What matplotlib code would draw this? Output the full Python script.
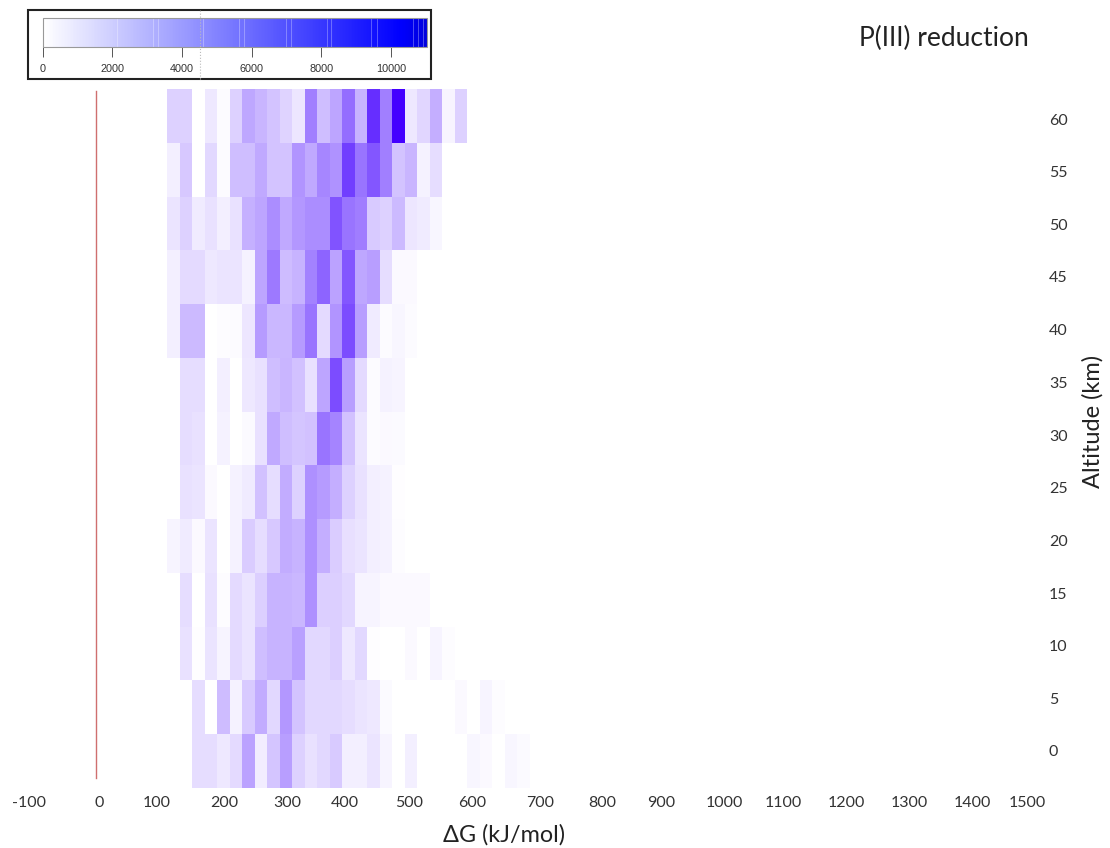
import numpy as np
import matplotlib
matplotlib.use('Agg')
import matplotlib.pyplot as plt
from matplotlib.cm import ScalarMappable
from matplotlib.colors import LinearSegmentedColormap, Normalize
from matplotlib.lines import Line2D
from matplotlib.patches import Rectangle

plt.rcParams['font.family'] = ['Lato', 'DejaVu Sans']

# bin edges, 20 kJ/mol wide
dg_edges = np.arange(114, 114 + 20 * 30, 20)
alt_edges = np.arange(-2.5, 67.5, 5)

# one list per altitude, starting at the first bin
alt60 = [2000, 2000, 0, 1000, 200, 2000, 3800, 3200, 2600, 1900, 1100, 5500, 2800, 3900, 6300, 3300, 9000, 5500, 11000, 1000, 1800, 3500, 500, 2000]
alt55 = [700, 2400, 0, 1700, 200, 2800, 2800, 3700, 2600, 2600, 4600, 3700, 5200, 4700, 8300, 6000, 7300, 5500, 2600, 3200, 600, 1500]
alt50 = [1200, 2000, 900, 1300, 700, 1300, 3400, 3900, 4900, 3700, 4500, 4900, 4900, 7400, 6000, 5600, 2300, 2000, 3000, 1100, 900, 400]
alt45 = [700, 1600, 1600, 1000, 1200, 1200, 600, 3900, 5800, 2900, 3300, 5400, 6700, 4000, 7300, 3800, 4200, 1500, 300, 300]
alt40 = [700, 3000, 3000, 0, 150, 200, 1100, 4300, 3100, 3100, 4300, 6000, 1600, 4600, 7700, 4200, 900, 200, 400, 200]
alt35 = [0, 1500, 1500, 0, 700, 0, 1000, 1300, 2800, 3200, 2700, 1300, 3900, 7700, 4200, 1600, 200, 600, 500]
alt30 = [0, 1500, 1300, 0, 600, 0, 250, 1300, 3700, 2800, 2500, 2700, 6000, 5300, 2700, 1200, 200, 300, 250]
alt25 = [0, 1300, 1200, 300, 0, 600, 900, 2700, 1500, 3600, 2000, 4800, 4300, 3500, 2000, 1300, 700, 600, 100]
alt20 = [500, 900, 300, 1200, 0, 600, 2200, 1500, 2400, 3600, 3300, 4800, 3500, 2200, 1400, 1200, 700, 600, 150]
alt15 = [0, 1500, 0, 1300, 150, 1600, 1200, 2100, 3300, 3300, 3100, 4800, 2100, 2100, 1700, 500, 500, 300, 300, 300, 300]
alt10 = [0, 1300, 100, 1200, 500, 1600, 1200, 2800, 3300, 3300, 4100, 1700, 1700, 2100, 1000, 1700, 100, 0, 0, 300, 0, 500, 150]
alt05 = [0, 0, 1500, 0, 2900, 600, 2300, 3600, 1700, 4500, 2600, 1700, 1700, 1700, 1500, 1200, 1000, 250, 0, 0, 0, 0, 0, 300, 0, 500, 150]
alt00 = [0, 0, 1500, 1500, 1000, 1600, 4000, 800, 2500, 4200, 2000, 1300, 1700, 2300, 700, 700, 1200, 500, 0, 700, 0, 0, 0, 0, 400, 300, 0, 400, 250]

rows = [alt00, alt05, alt10, alt15, alt20, alt25, alt30, alt35, alt40, alt45, alt50, alt55, alt60]
counts = np.zeros((len(rows), len(dg_edges) - 1))
for i, r in enumerate(rows):
    counts[i, :len(r)] = r

x_labels = ['-100', '0', '100', '200', '300', '400', '500', '600', '700', '800',
            '900', '1000', '1100', '1200', '1300', '1400', '1500']
y_labels = ['60', '55', '50', '45', '40', '35', '30', '25', '20', '15', '10', '5', '0']
cbar_ticks = [0, 2000, 4000, 6000, 8000, 10000]
# pale streaks in the colour bar
cbar_streaks = [2126, 3180, 3324, 4617, 5651, 5795, 6982, 7126, 8161, 8285, 9435, 9598, 10632, 10795, 10939]

W, H = 1110, 848
fig = plt.figure(figsize=(W / 100, H / 100), dpi=100)

# main axes: -100..1500 is px 33.5..1033.5, rows run px 89..788
L, R, T, B = 33.5, 1033.5, 89, 788
ax = fig.add_axes([L / W, 1 - B / H, (R - L) / W, (B - T) / H])
heat = LinearSegmentedColormap.from_list('heat', ['#ffffff', '#4400ff'])
ax.pcolormesh(dg_edges, alt_edges, counts, cmap=heat, vmin=0, vmax=11000)


def px2x(px):
    return (px - 96) / 0.625


def py2y(py):
    return 62.5 - (py - T) / 10.754


# labels in the picture are not evenly spaced
x_label_px = [29, 99, 157, 224, 287, 345, 409, 472, 540, 602, 661, 724, 783, 846, 909, 972, 1027]
y_label_px = [120, 172, 225, 277, 330, 383, 436, 488, 541, 594, 646, 699, 751]
ax.set_xticks([px2x(p) for p in x_label_px], x_labels)
ax.set_yticks([py2y(p) for p in y_label_px], y_labels)
ax.xaxis.get_major_ticks()[0].label1.set_clip_on(False)
ax.yaxis.tick_right()
ax.tick_params(axis='both', length=0, labelsize=11.5, labelcolor='#333333')
ax.tick_params(axis='x', pad=6)
ax.tick_params(axis='y', pad=11)
for s in ax.spines.values():
    s.set_visible(False)
ax.patch.set_visible(False)

ax.plot([0, 0], [py2y(91), py2y(778)], color='#cf6f6f', lw=1.0)

# set_xticks widens the limits, so fix them here; the -100 label sits just left of the axes
ax.set_xlim(px2x(L - 8), 1500)
ax.set_ylim(-2.5, 62.5)
ax.set_position([(L - 8) / W, 1 - B / H, (R - L + 8) / W, (B - T) / H])
L = L - 8

ax.set_xlabel('ΔG (kJ/mol)', fontsize=16.8, color='#222222')
ax.xaxis.set_label_coords((504 - L) / (R - L), -(835 - B) / (B - T))
ax.xaxis.label.set_va('center')
ax.yaxis.set_label_position('right')
ax.set_ylabel('Altitude (km)', fontsize=17, color='#222222', rotation=90)
ax.yaxis.set_label_coords((1093 - L) / (R - L), 1 - (421 - T) / (B - T))
ax.yaxis.label.set_va('center')
ax.yaxis.label.set_ha('center')

fig.text(859 / W, 1 - 38 / H, 'P(III) reduction', fontsize=19, color='#222222', ha='left', va='center')

# colour bar in its framed box
fig.add_artist(Rectangle((28 / W, 1 - 79 / H), 403 / W, 69.5 / H, transform=fig.transFigure,
                         fill=False, ec='#222222', lw=1.5))
cax = fig.add_axes([42.7 / W, 1 - 47.3 / H, 384.6 / W, 29.6 / H])
bar = LinearSegmentedColormap.from_list('bar', [(0, '#ffffff'), (0.93, '#0000ff'), (1, '#0000dd')])
cb = fig.colorbar(ScalarMappable(Normalize(0, 11050), bar), cax=cax, orientation='horizontal', ticks=cbar_ticks)
cb.outline.set_edgecolor('#999999')
cb.outline.set_linewidth(0.8)
cax.tick_params(length=7, width=0.7, color='#555555', labelsize=7.8, labelcolor='#333333', pad=5)
for t in cax.get_xticklabels():
    t.set_fontfamily('Liberation Sans')
for v in cbar_streaks:
    cax.axvline(v, color='white', lw=0.6, alpha=0.35)
fig.add_artist(Line2D([200 / W, 200 / W], [1 - 79 / H, 1 - 10 / H], transform=fig.transFigure,
                      color='#bbbbbb', lw=0.8, ls=':'))

fig.savefig('out.png', dpi=100)
